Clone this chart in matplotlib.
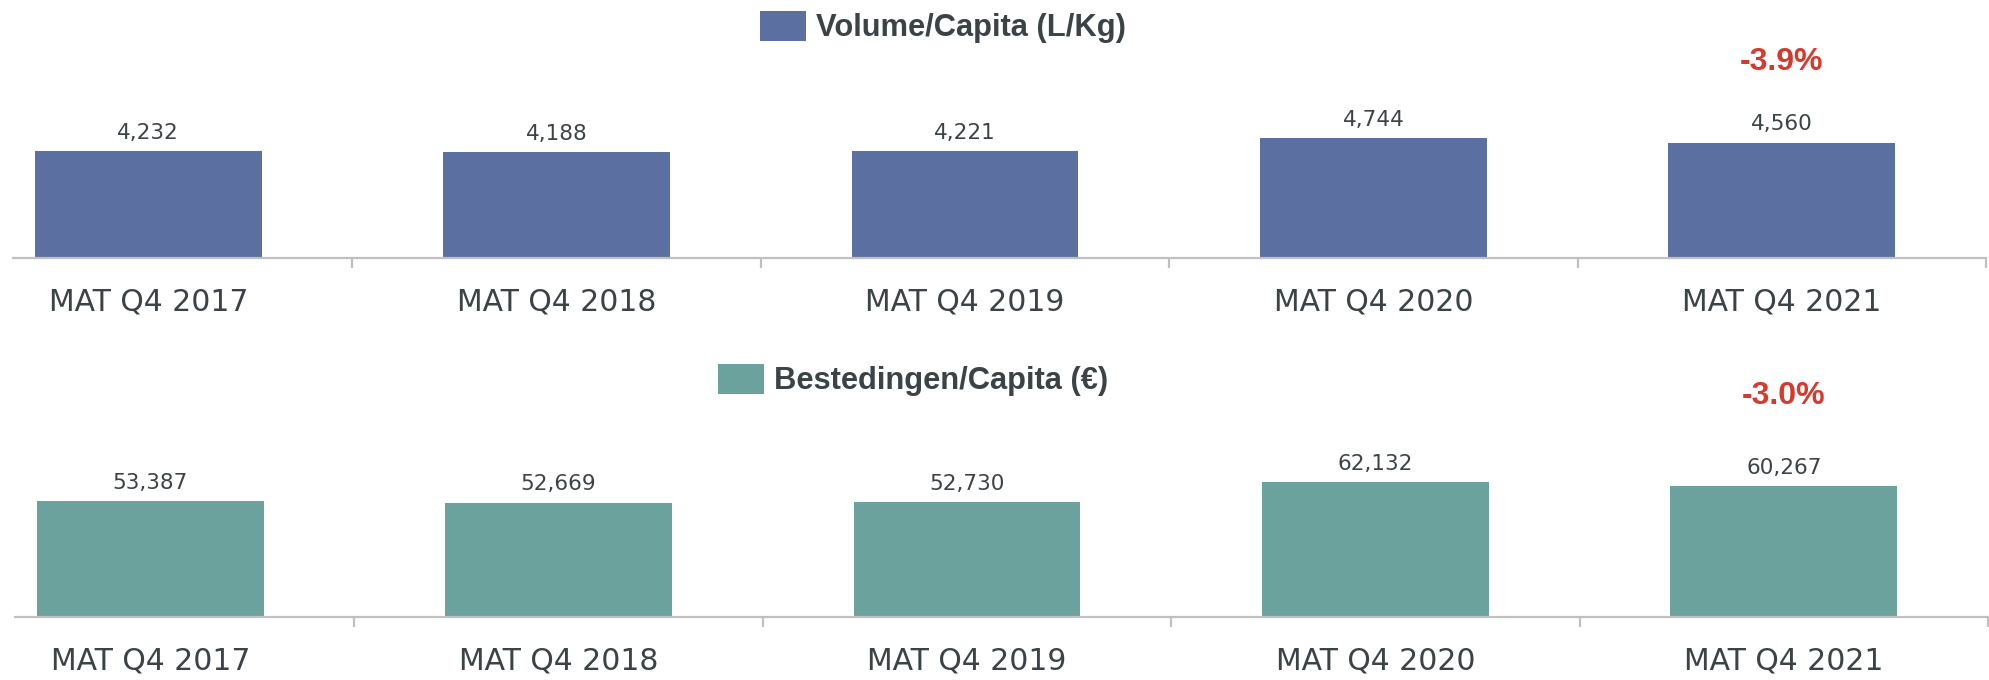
import numpy as np
import matplotlib
matplotlib.use("Agg")
from matplotlib import pyplot as plt

periods = ["MAT Q4 2017", "MAT Q4 2018", "MAT Q4 2019", "MAT Q4 2020", "MAT Q4 2021"]
volume = [4.232, 4.188, 4.221, 4.744, 4.560]
spend = [53.387, 52.669, 52.730, 62.132, 60.267]
titles = ["Volume/Capita (L/Kg)", "Bestedingen/Capita (€)"]

W, H = 1990, 680
text_col = "#3b4347"
line_col = "#c0c0c0"


def px_box(left, top, right, bottom):
    # pixel box -> figure fraction
    return [left / W, 1 - bottom / H, (right - left) / W, (bottom - top) / H]


fig = plt.figure(figsize=(W / 100, H / 100), dpi=100)

panels = [
    # values, colour, axes box, ylim top, legend centre, pct label y
    (volume, "#5c6fa1", px_box(-56, 40, 1986, 258), 8.62, (943, 27), 7.75),
    (spend, "#6ba29d", px_box(-54, 400, 1988, 617), 99.9, (913, 380), 101.7),
]

x = np.arange(len(periods))
for (vals, col, box, ytop, leg_xy, pct_y), title in zip(panels, titles):
    ax = fig.add_axes(box)
    bars = ax.bar(x, vals, width=0.555, color=col, linewidth=0)
    ax.set_xlim(-0.5, len(periods) - 0.5)
    ax.set_ylim(0, ytop)

    # dutch style decimals
    labels = [f"{v:.3f}".replace(".", ",") for v in vals]
    ax.bar_label(bars, labels=labels, padding=6, fontsize=15.5,
                 color=text_col, family="DejaVu Sans")

    for s in ["top", "left", "right"]:
        ax.spines[s].set_visible(False)
    ax.spines["bottom"].set_color(line_col)
    ax.spines["bottom"].set_linewidth(1.6)
    ax.spines["bottom"].set_bounds(-0.33, len(periods) - 0.5)
    ax.set_yticks([])
    ax.set_xticks(x)
    ax.set_xticklabels(periods, fontsize=21.5, color=text_col, family="DejaVu Sans")
    ax.set_xticks(list(x[1:] - 0.5) + [len(periods) - 0.5], minor=True)
    ax.tick_params(axis="x", which="major", length=0, pad=21)
    ax.tick_params(axis="x", which="minor", length=7, width=1.6, color=line_col)

    fs = 22.2
    fs_px = fs * 100 / 72
    ax.legend([bars], [title], loc="center",
              bbox_to_anchor=(leg_xy[0] / W, 1 - leg_xy[1] / H),
              bbox_transform=fig.transFigure, frameon=False,
              prop={"family": "Liberation Sans", "weight": "bold", "size": fs},
              labelcolor=text_col, handlelength=46 / fs_px, handleheight=35 / fs_px,
              handletextpad=10 / fs_px, borderpad=0, borderaxespad=0)

    # change vs previous year
    change = (vals[-1] / vals[-2] - 1) * 100
    ax.text(x[-1], pct_y, f"{change:.1f}%", ha="center", va="center",
            fontsize=23, fontweight="bold", family="Liberation Sans",
            color="#d63a2e", clip_on=False)

fig.savefig("out.png", dpi=100)
